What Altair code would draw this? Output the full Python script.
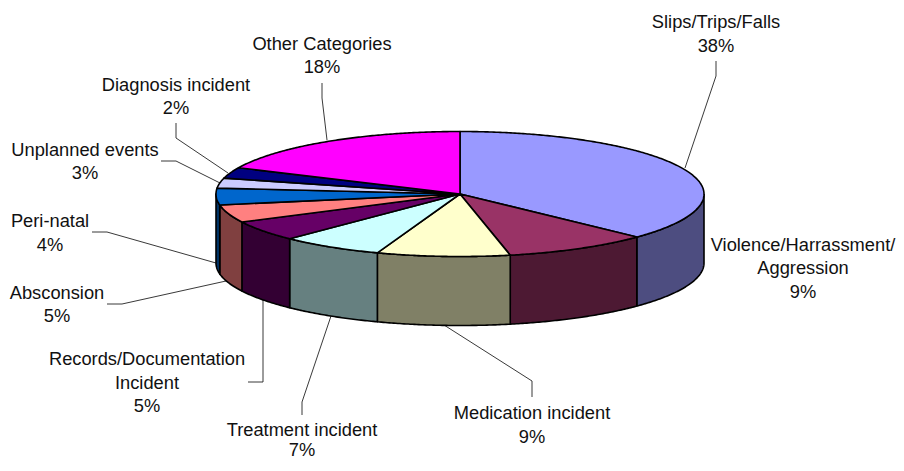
import math
import altair as alt
import pandas as pd

# Slice data, clockwise from 12 o'clock
categories = ["Slips/Trips/Falls", "Violence/Harrassment/Aggression", "Medication incident",
              "Treatment incident", "Records/Documentation Incident", "Absconsion", "Peri-natal",
              "Unplanned events", "Diagnosis incident", "Other Categories"]
shares = [37.1, 9.6, 8.8, 6.8, 5.3, 4.6, 4.3, 2.6, 2.8, 18.1]
top_colors = ["#9999FF", "#993366", "#FFFFCC", "#CCFFFF", "#660066",
              "#FF8080", "#0066CC", "#CCCCFF", "#000080", "#FF00FF"]
wall_colors = ["#4D4D80", "#4D1933", "#808066", "#668080", "#330033",
               "#804040", "#003366", "#666680", "#000040", "#800080"]

# Pie geometry
CX, CY, RX, RY, DEPTH = 460, 194, 244, 62.5, 69

# Text of each label: (x centre, [lines], [baselines])
label_x = [716, 803, 532, 302, 147, 57, 50, 85, 176, 322]
label_lines = [["Slips/Trips/Falls", "38%"],
               ["Violence/Harrassment/", "Aggression", "9%"],
               ["Medication incident", "9%"],
               ["Treatment incident", "7%"],
               ["Records/Documentation", "Incident", "5%"],
               ["Absconsion", "5%"],
               ["Peri-natal", "4%"],
               ["Unplanned events", "3%"],
               ["Diagnosis incident", "2%"],
               ["Other Categories", "18%"]]
label_base = [[28, 52], [251, 274, 298], [419, 443], [436, 456], [365, 389, 412],
              [299, 322], [227, 251], [156, 179], [91, 114], [50, 73]]

leaders = [[(716, 61), (716, 76), (685, 168)],
           [(532, 397), (532, 381), (444, 325)],
           [(302, 415), (302, 402), (331, 316)],
           [(248, 382), (263, 382), (263, 300)],
           [(107, 304), (122, 304), (226, 281)],
           [(92, 232), (107, 232), (216, 263)],
           [(161, 161), (176, 161), (220, 183)],
           [(176, 123), (176, 138), (228, 173)],
           [(322, 83), (322, 98), (327, 140)]]


def rim(t, drop=0):
    a = math.radians(t)
    return CX + RX * math.sin(a), CY - RY * math.cos(a) + drop


def arc(t0, t1):
    n = max(2, int(abs(t1 - t0) * 2))
    return [t0 + (t1 - t0) * k / n for k in range(n + 1)]


walls, tops = [], []
start = 0.0
for name, share, tc, wc in zip(categories, shares, top_colors, wall_colors):
    end = start + share * 3.6
    pts = [(CX, CY)] + [rim(t) for t in arc(start, end)] + [(CX, CY)]
    for i, (x, y) in enumerate(pts):
        tops.append(dict(name=name, color=tc, i=i, x=x, y=y))
    lo, hi = max(start, 90), min(end, 270)
    if lo < hi:
        ts = arc(lo, hi)
        pts = [rim(t) for t in ts] + [rim(t, DEPTH) for t in reversed(ts)]
        pts.append(pts[0])
        for i, (x, y) in enumerate(pts):
            walls.append(dict(name=name, color=wc, i=i, x=x, y=y))
    start = end

lead_rows = [dict(name=str(k), i=i, x=x, y=y) for k, l in enumerate(leaders) for i, (x, y) in enumerate(l)]
text_rows = [dict(x=lx, y=b, text=t) for lx, ls, bs in zip(label_x, label_lines, label_base)
             for t, b in zip(ls, bs)]

xs = alt.Scale(domain=[8, 896], nice=False, zero=False)
ys = alt.Scale(domain=[463, 8], nice=False, zero=False)
X = alt.X("x:Q", scale=xs, axis=None)
Y = alt.Y("y:Q", scale=ys, axis=None)


def poly(rows):
    return alt.Chart(pd.DataFrame(rows)).mark_line(
        stroke="black", strokeWidth=1.6, strokeJoin="round", clip=False
    ).encode(x=X, y=Y, order="i:Q", detail="name:N", fill=alt.Fill("color:N", scale=None))


lead = alt.Chart(pd.DataFrame(lead_rows)).mark_line(stroke="#222222", strokeWidth=0.9).encode(
    x=X, y=Y, order="i:Q", detail="name:N")
text = alt.Chart(pd.DataFrame(text_rows)).mark_text(
    font="Liberation Sans", fontSize=18.3, color="#111111", align="center", baseline="alphabetic"
).encode(x=X, y=Y, text="text:N")

chart = alt.layer(lead, poly(walls), poly(tops), text).properties(
    width=888, height=455, padding=0, background="white",
    autosize=alt.AutoSizeParams(type="none")
).configure_view(stroke=None)

chart.save("out.html", embed_options={"renderer": "svg", "actions": False})
